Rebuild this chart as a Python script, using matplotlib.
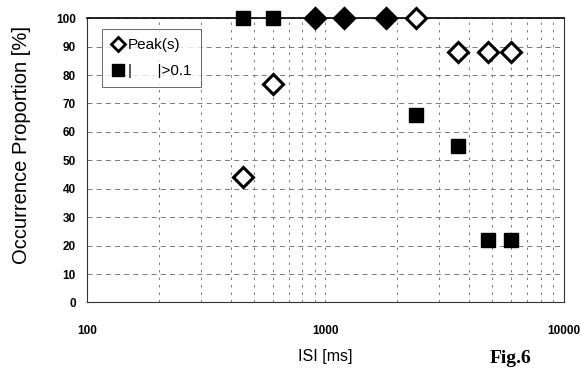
import matplotlib
matplotlib.use("Agg")
import matplotlib.pyplot as plt
from matplotlib.ticker import FixedLocator, LogLocator, NullFormatter
from matplotlib.lines import Line2D

# Data
peak_isi = [450, 600, 900, 1200, 1800, 2400, 3600, 4800, 6000]
peak_pct = [44, 77, 100, 100, 100, 100, 88, 88, 88]
peak_filled = [False, False, True, True, True, False, False, False, False]

sq_isi = [450, 600, 900, 1200, 1800, 2400, 3600, 4800, 6000]
sq_pct = [100, 100, 100, 100, 100, 66, 55, 22, 22]

y_ticks = [0, 10, 20, 30, 40, 50, 60, 70, 80, 90, 100]
x_ticks = [100, 1000, 10000]
x_ticklabels = ["100", "1000", "10000"]

plt.rcParams['font.family'] = ['Liberation Sans', 'DejaVu Sans']

fig = plt.figure(figsize=(5.81, 3.68), dpi=100)
ax = fig.add_axes([0.1497, 0.178, 0.821, 0.7725])

ax.set_xscale('log')
ax.set_xlim(100, 10000)
ax.set_ylim(0, 100)

# grid
ax.yaxis.set_major_locator(FixedLocator(y_ticks))
ax.xaxis.set_major_locator(FixedLocator(x_ticks))
ax.xaxis.set_minor_locator(LogLocator(base=10, subs=range(2, 10)))
ax.xaxis.set_minor_formatter(NullFormatter())
ax.grid(True, axis='y', which='major', color='#666666', linestyle=(0, (6, 5)), linewidth=0.6)
ax.grid(True, axis='x', which='both', color='#666666', linestyle=(0, (3, 6)), linewidth=0.6)
ax.set_axisbelow(True)

# squares series (where a filled diamond sits on top, the square is hidden)
sq_x = [x for x, f in zip(sq_isi, peak_filled) if not f]
sq_y = [y for y, f in zip(sq_pct, peak_filled) if not f]
ax.plot(sq_x, sq_y, linestyle='none', marker='s', markersize=10,
        markerfacecolor='black', markeredgecolor='black', zorder=3,
        clip_on=False)

# peak series (diamonds)
for xi, yi, f in zip(peak_isi, peak_pct, peak_filled):
    ax.plot([xi], [yi], linestyle='none', marker='D', markersize=10.5,
            markerfacecolor='black' if f else 'white', markeredgecolor='black',
            markeredgewidth=2.2, zorder=4, clip_on=False)

# legend
h1 = Line2D([], [], linestyle='none', marker='D', markersize=7,
            markerfacecolor='white', markeredgecolor='black', markeredgewidth=2)
h2 = Line2D([], [], linestyle='none', marker='s', markersize=9,
            markerfacecolor='black', markeredgecolor='black')
leg = ax.legend([h1, h2], ['Peak(s)', '|      |>0.1'], loc='upper left',
                bbox_to_anchor=(0.016, 0.99), fontsize=11, frameon=True,
                fancybox=False, edgecolor='#444444', handlelength=0.8,
                handletextpad=0.3, labelspacing=0.8, borderpad=0.6)
leg.get_frame().set_linewidth(0.7)

for s in ax.spines.values():
    s.set_color('#333333')
    s.set_linewidth(0.8)
ax.spines['top'].set_linewidth(1.2)
ax.spines['top'].set_color('black')

ax.set_xticklabels(x_ticklabels)
ax.tick_params(axis='both', which='both', length=0)
ax.tick_params(axis='x', pad=16, labelsize=8.5)
ax.tick_params(axis='y', pad=8, labelsize=8.5)
for lab in ax.get_xticklabels() + ax.get_yticklabels():
    lab.set_fontweight('bold')

fig.text(22 / 581, 1 - 145 / 368, 'Occurrence Proportion [%]', fontsize=14.5,
         rotation=90, ha='center', va='center')
ax.set_xlabel('ISI [ms]', fontsize=11.5, labelpad=9)

fig.text(0.843, 0.004, 'Fig.6', fontsize=14, fontweight='bold',
         family=['Liberation Serif', 'DejaVu Serif'], ha='left', va='bottom')

fig.savefig('out.png', dpi=100)
